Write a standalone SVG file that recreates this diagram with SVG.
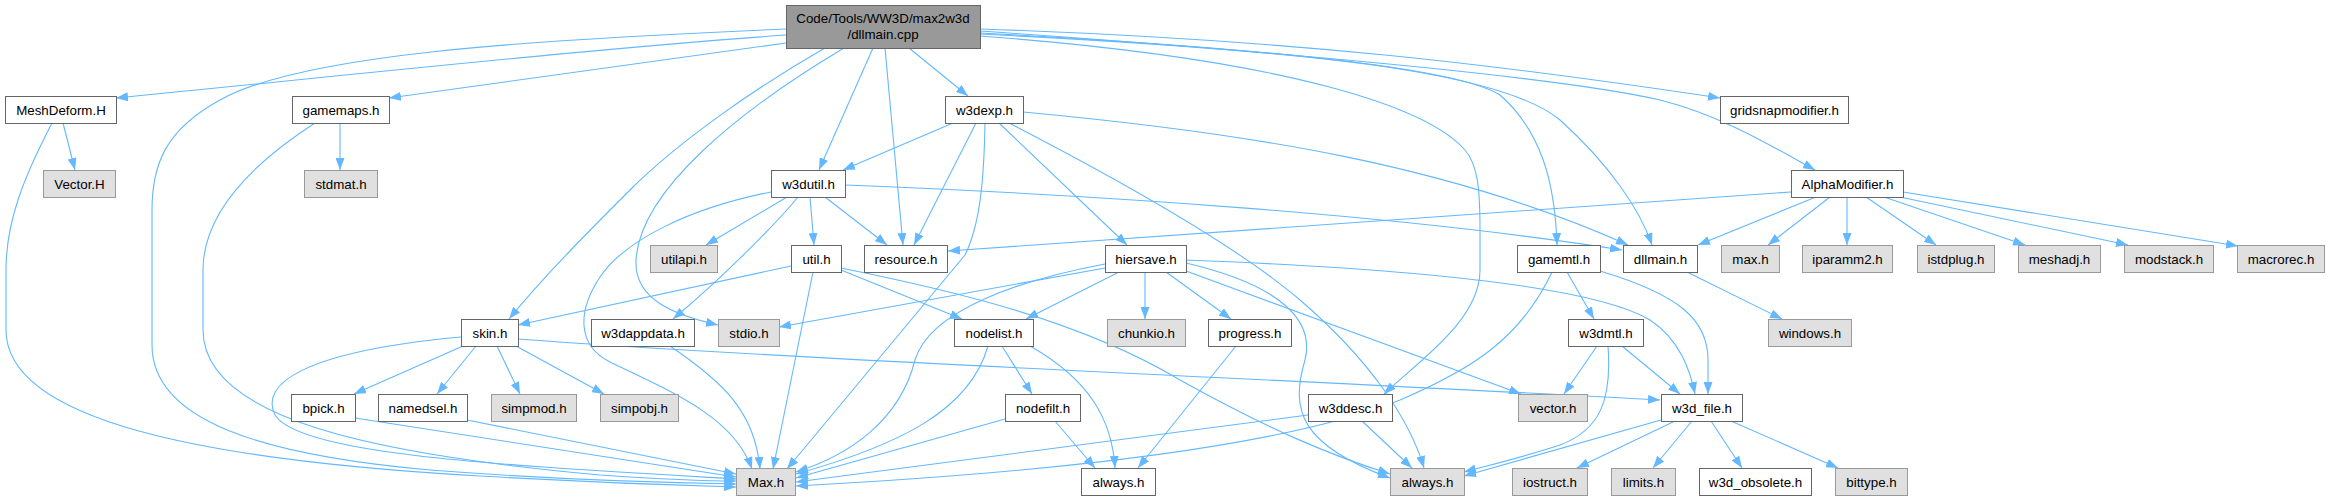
<svg xmlns="http://www.w3.org/2000/svg" width="2329" height="501" viewBox="0 0 2329 501">
<style>
text{font-family:"Liberation Sans",Arial,sans-serif;font-size:13.33px;fill:#000;text-anchor:middle}
.w rect{fill:#fff;stroke:#666;stroke-width:1}
.g rect{fill:#e0e0e0;stroke:#999;stroke-width:1}
.r rect{fill:#999;stroke:#666;stroke-width:1}
#edges path{fill:none;stroke:#63b8ff;stroke-width:1.1;marker-end:url(#ah)}
</style>
<defs>
<marker id="ah" viewBox="0 0 12 9" refX="12" refY="4.5" markerWidth="12" markerHeight="9" markerUnits="userSpaceOnUse" orient="auto"><path d="M0,0 L12,4.5 L0,9 z" fill="#63b8ff"/></marker>
</defs>
<rect width="2329" height="501" fill="#fff"/>
<g id="edges">
<path d="M786,29 C520,40 300,55 220,100 C165,130 152,165 152,210 L152,345 C152,420 260,455 430,470 C560,480 680,483 736,484"/>
<path d="M786,35 C600,48 350,75 116,98"/>
<path d="M786,43 L389,98"/>
<path d="M825,48 C760,85 680,140 630,190 C590,230 545,275 509,319"/>
<path d="M844,48 C740,110 640,190 636,260 C634,300 675,315 718,325"/>
<path d="M873,48 L819,170"/>
<path d="M885,48 L903,245"/>
<path d="M909,48 L968,96"/>
<path d="M980,29 C1300,40 1500,65 1720,98"/>
<path d="M980,31 C1250,50 1550,75 1660,100 C1720,115 1770,145 1815,170"/>
<path d="M980,33 C1300,50 1460,70 1500,95 C1540,130 1555,180 1557,245"/>
<path d="M980,34 C1300,50 1500,70 1560,120 C1610,165 1640,210 1652,245"/>
<path d="M980,36 C1300,60 1430,110 1465,150 C1478,165 1480,190 1480,230 L1480,270 C1480,320 1420,360 1384,394"/>
<path d="M63,123 L75,170"/>
<path d="M52,123 C25,175 6,220 6,270 L6,330 C6,420 200,460 480,476 C600,483 700,486 736,487"/>
<path d="M340,123 L340,170"/>
<path d="M315,123 C250,165 203,215 203,270 L203,330 C203,420 380,455 600,475 C660,479 700,481 736,481"/>
<path d="M953,123 L843,170"/>
<path d="M976,123 L914,245"/>
<path d="M985,123 C984,180 980,225 965,255 L787,469"/>
<path d="M999,123 L1127,245"/>
<path d="M1009,123 C1100,170 1230,240 1300,300 C1370,360 1410,420 1424,468"/>
<path d="M1023,112 C1250,133 1450,165 1628,245"/>
<path d="M787,197 L706,245"/>
<path d="M798,197 C775,225 720,280 673,319"/>
<path d="M810,197 L814,245"/>
<path d="M825,197 L887,245"/>
<path d="M845,185 C1100,195 1400,215 1622,250"/>
<path d="M771,192 C690,208 625,240 600,277 C578,310 576,345 610,362 C680,395 735,420 752,469"/>
<path d="M791,266 L518,325"/>
<path d="M813,272 L773,469"/>
<path d="M841,270 L962,319"/>
<path d="M841,268 C950,290 1080,320 1180,380 C1270,430 1330,455 1390,474"/>
<path d="M1105,268 L779,327"/>
<path d="M1105,264 C1020,280 930,310 915,360 C900,420 850,455 796,472"/>
<path d="M1119,272 L1026,319"/>
<path d="M1145,272 L1145,319"/>
<path d="M1166,272 L1231,319"/>
<path d="M1186,263 C1280,285 1315,320 1305,360 C1290,410 1300,445 1390,478"/>
<path d="M1186,271 L1521,394"/>
<path d="M1186,260 C1450,270 1600,290 1650,320 C1680,340 1690,370 1695,394"/>
<path d="M1567,272 L1594,319"/>
<path d="M1600,271 C1680,295 1708,320 1708,360 L1708,394"/>
<path d="M1552,272 C1520,340 1470,370 1400,400 C1300,440 1100,470 796,486"/>
<path d="M1687,272 L1782,319"/>
<path d="M1791,192 L948,251"/>
<path d="M1816,197 L1698,245"/>
<path d="M1830,197 L1768,245"/>
<path d="M1847,197 L1847,245"/>
<path d="M1866,197 L1936,245"/>
<path d="M1884,197 L2025,245"/>
<path d="M1900,197 L2128,245"/>
<path d="M1903,192 L2238,246"/>
<path d="M463,346 L354,394"/>
<path d="M476,346 L437,394"/>
<path d="M497,346 L520,394"/>
<path d="M516,346 L604,394"/>
<path d="M518,339 C800,360 1300,380 1660,400"/>
<path d="M461,337 C300,352 260,385 275,415 C300,455 500,465 736,479"/>
<path d="M670,346 C720,380 755,410 760,469"/>
<path d="M1002,346 L1032,394"/>
<path d="M988,346 C970,410 900,445 796,474"/>
<path d="M1030,346 C1090,380 1112,420 1115,468"/>
<path d="M1005,419 L796,478"/>
<path d="M1055,421 L1095,468"/>
<path d="M1236,346 L1138,468"/>
<path d="M1597,346 L1564,394"/>
<path d="M1622,346 L1680,394"/>
<path d="M1608,346 C1612,400 1600,430 1560,445 C1520,458 1490,465 1464,472"/>
<path d="M1308,415 L796,482"/>
<path d="M1362,421 L1412,468"/>
<path d="M1661,420 L1464,476"/>
<path d="M1675,421 L1577,468"/>
<path d="M1692,421 L1653,468"/>
<path d="M1711,421 L1742,468"/>
<path d="M1731,421 L1838,468"/>
<path d="M355,418 L736,477"/>
<path d="M467,420 L736,474"/>
</g>
<g id="root" class="r"><rect x="786.5" y="5.5" width="194" height="43"/><text x="883" y="23">Code/Tools/WW3D/max2w3d</text><text x="883" y="39">/dllmain.cpp</text></g>
<g id="MeshDeform_H" class="w"><rect x="5.5" y="96.5" width="111" height="27"/><text x="61" y="115">MeshDeform.H</text></g>
<g id="gamemaps_h" class="w"><rect x="292.5" y="96.5" width="97" height="27"/><text x="341" y="115">gamemaps.h</text></g>
<g id="w3dexp_h" class="w"><rect x="945.5" y="96.5" width="78" height="27"/><text x="984.5" y="115">w3dexp.h</text></g>
<g id="gridsnapmodifier_h" class="w"><rect x="1720.5" y="96.5" width="128" height="27"/><text x="1784.5" y="115">gridsnapmodifier.h</text></g>
<g id="Vector_H" class="g"><rect x="43.5" y="170.5" width="72" height="27"/><text x="79.5" y="189">Vector.H</text></g>
<g id="stdmat_h" class="g"><rect x="304.5" y="170.5" width="73" height="27"/><text x="341" y="189">stdmat.h</text></g>
<g id="w3dutil_h" class="w"><rect x="771.5" y="170.5" width="74" height="27"/><text x="808.5" y="189">w3dutil.h</text></g>
<g id="AlphaModifier_h" class="w"><rect x="1791.5" y="170.5" width="112" height="27"/><text x="1847.5" y="189">AlphaModifier.h</text></g>
<g id="utilapi_h" class="g"><rect x="650.5" y="245.5" width="67" height="27"/><text x="684" y="264">utilapi.h</text></g>
<g id="util_h" class="w"><rect x="791.5" y="245.5" width="50" height="27"/><text x="816.5" y="264">util.h</text></g>
<g id="resource_h" class="w"><rect x="864.5" y="245.5" width="83" height="27"/><text x="906" y="264">resource.h</text></g>
<g id="hiersave_h" class="w"><rect x="1105.5" y="245.5" width="81" height="27"/><text x="1146" y="264">hiersave.h</text></g>
<g id="gamemtl_h" class="w"><rect x="1517.5" y="245.5" width="83" height="27"/><text x="1559" y="264">gamemtl.h</text></g>
<g id="dllmain_h" class="w"><rect x="1623.5" y="245.5" width="74" height="27"/><text x="1660.5" y="264">dllmain.h</text></g>
<g id="max_h" class="g"><rect x="1721.5" y="245.5" width="58" height="27"/><text x="1750.5" y="264">max.h</text></g>
<g id="iparamm2_h" class="g"><rect x="1802.5" y="245.5" width="90" height="27"/><text x="1847.5" y="264">iparamm2.h</text></g>
<g id="istdplug_h" class="g"><rect x="1917.5" y="245.5" width="77" height="27"/><text x="1956" y="264">istdplug.h</text></g>
<g id="meshadj_h" class="g"><rect x="2018.5" y="245.5" width="82" height="27"/><text x="2059.5" y="264">meshadj.h</text></g>
<g id="modstack_h" class="g"><rect x="2124.5" y="245.5" width="89" height="27"/><text x="2169" y="264">modstack.h</text></g>
<g id="macrorec_h" class="g"><rect x="2237.5" y="245.5" width="87" height="27"/><text x="2281" y="264">macrorec.h</text></g>
<g id="skin_h" class="w"><rect x="461.5" y="319.5" width="57" height="27"/><text x="490" y="338">skin.h</text></g>
<g id="w3dappdata_h" class="w"><rect x="591.5" y="319.5" width="103" height="27"/><text x="643" y="338">w3dappdata.h</text></g>
<g id="stdio_h" class="g"><rect x="718.5" y="319.5" width="61" height="27"/><text x="749" y="338">stdio.h</text></g>
<g id="nodelist_h" class="w"><rect x="954.5" y="319.5" width="79" height="27"/><text x="994" y="338">nodelist.h</text></g>
<g id="chunkio_h" class="g"><rect x="1107.5" y="319.5" width="78" height="27"/><text x="1146.5" y="338">chunkio.h</text></g>
<g id="progress_h" class="w"><rect x="1208.5" y="319.5" width="83" height="27"/><text x="1250" y="338">progress.h</text></g>
<g id="w3dmtl_h" class="w"><rect x="1568.5" y="319.5" width="75" height="27"/><text x="1606" y="338">w3dmtl.h</text></g>
<g id="windows_h" class="g"><rect x="1768.5" y="319.5" width="83" height="27"/><text x="1810" y="338">windows.h</text></g>
<g id="bpick_h" class="w"><rect x="291.5" y="394.5" width="64" height="27"/><text x="323.5" y="413">bpick.h</text></g>
<g id="namedsel_h" class="w"><rect x="378.5" y="394.5" width="89" height="27"/><text x="423" y="413">namedsel.h</text></g>
<g id="simpmod_h" class="g"><rect x="491.5" y="394.5" width="85" height="27"/><text x="534" y="413">simpmod.h</text></g>
<g id="simpobj_h" class="g"><rect x="600.5" y="394.5" width="78" height="27"/><text x="639.5" y="413">simpobj.h</text></g>
<g id="nodefilt_h" class="w"><rect x="1005.5" y="394.5" width="75" height="27"/><text x="1043" y="413">nodefilt.h</text></g>
<g id="w3ddesc_h" class="w"><rect x="1308.5" y="394.5" width="84" height="27"/><text x="1350.5" y="413">w3ddesc.h</text></g>
<g id="vector_h" class="g"><rect x="1518.5" y="394.5" width="69" height="27"/><text x="1553" y="413">vector.h</text></g>
<g id="w3d_file_h" class="w"><rect x="1661.5" y="394.5" width="81" height="27"/><text x="1702" y="413">w3d_file.h</text></g>
<g id="Max_h" class="g"><rect x="736.5" y="468.5" width="59" height="27"/><text x="766" y="487">Max.h</text></g>
<g id="always_h_1" class="w"><rect x="1081.5" y="468.5" width="74" height="27"/><text x="1118.5" y="487">always.h</text></g>
<g id="always_h_2" class="g"><rect x="1390.5" y="468.5" width="74" height="27"/><text x="1427.5" y="487">always.h</text></g>
<g id="iostruct_h" class="g"><rect x="1512.5" y="468.5" width="75" height="27"/><text x="1550" y="487">iostruct.h</text></g>
<g id="limits_h" class="g"><rect x="1611.5" y="468.5" width="64" height="27"/><text x="1643.5" y="487">limits.h</text></g>
<g id="w3d_obsolete_h" class="w"><rect x="1699.5" y="468.5" width="112" height="27"/><text x="1755.5" y="487">w3d_obsolete.h</text></g>
<g id="bittype_h" class="g"><rect x="1835.5" y="468.5" width="72" height="27"/><text x="1871.5" y="487">bittype.h</text></g>
</svg>
